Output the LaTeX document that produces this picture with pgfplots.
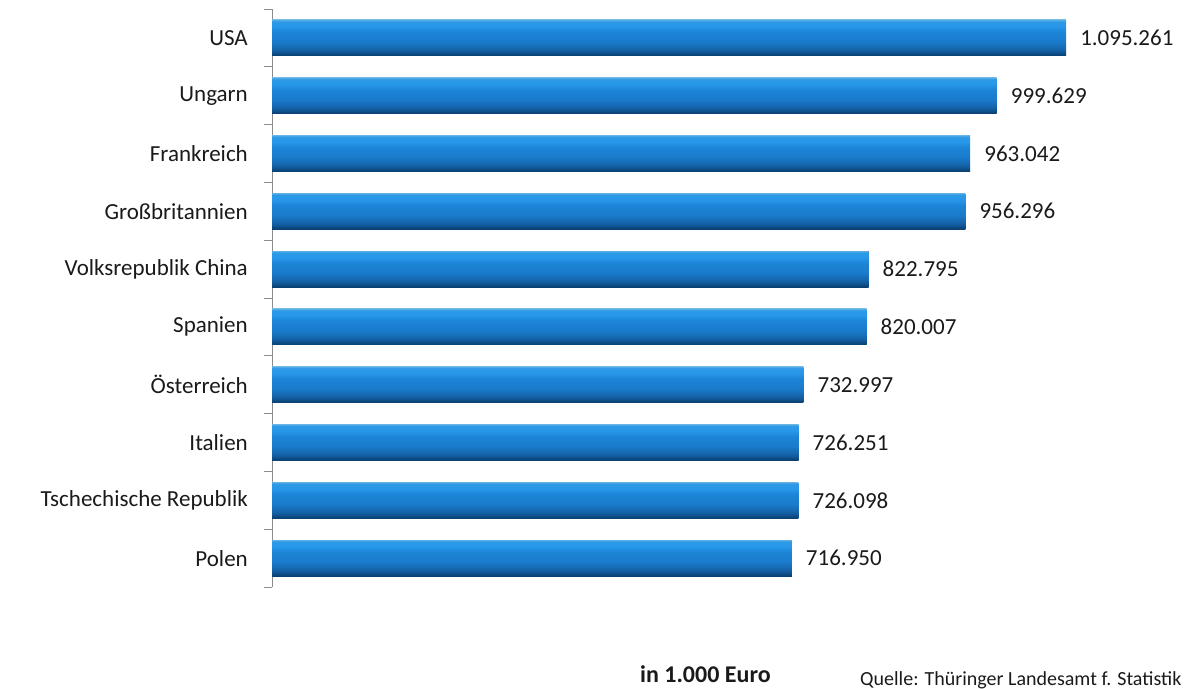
\documentclass[border=0pt]{standalone}
\usepackage{pgfplots}
\pgfplotsset{compat=1.18}
\usepackage{fontspec}
\setmainfont{Carlito}

\definecolor{txt}{HTML}{1A1A1A}
\definecolor{axisgray}{HTML}{8C8C8C}
\definecolor{b0}{HTML}{0A3F70}
\definecolor{b1}{HTML}{0C4A80}
\definecolor{b2}{HTML}{11599A}
\definecolor{b3}{HTML}{1668B0}
\definecolor{b4}{HTML}{1A7BCC}
\definecolor{b5}{HTML}{1C84D6}
\definecolor{b6}{HTML}{2797E9}
\definecolor{b7}{HTML}{2E9AE6}
\definecolor{b8}{HTML}{5AAEE6}

% bar gradient, bottom (25bp) to top (75bp)
\pgfdeclareverticalshading{barshade}{100bp}{color(0bp)=(b0); color(25bp)=(b0);
  color(27.8bp)=(b1); color(31bp)=(b2); color(36bp)=(b3); color(45bp)=(b4);
  color(58bp)=(b5); color(66bp)=(b6); color(73bp)=(b7); color(75bp)=(b8);
  color(100bp)=(b8)}

\newcommand{\lab}{\fontsize{23bp}{27bp}\selectfont}

\begin{document}
\begin{tikzpicture}
\path[use as bounding box] (0,0) rectangle (1194bp,-689bp);

\begin{axis}[
  at={(272bp,-9bp)}, anchor=north west,
  scale only axis, width=900bp, height=578bp,
  xmin=0, xmax=1241400, ymin=-0.5, ymax=9.5, y dir=reverse,
  hide x axis, axis y line*=left,
  ytick={0,...,9},
  yticklabels={USA, Ungarn, Frankreich, Großbritannien, Volksrepublik China,
    Spanien, Österreich, Italien, Tschechische Republik, Polen},
  minor ytick={-0.5,0.5,...,9.5},
  major tick length=0pt, minor tick length=8bp, tick align=outside,
  y axis line style={draw=axisgray, line width=1bp},
  every minor tick/.append style={draw=axisgray, line width=1bp},
  yticklabel style={font=\lab, text=txt, inner sep=0pt, xshift=-24bp},
  xbar, bar width=36bp, bar shift=0pt,
  nodes near coords, point meta=explicit symbolic,
  nodes near coords style={font=\lab, text=txt, anchor=west, inner sep=0pt, xshift=14bp},
  every axis plot/.append style={draw=none, shade, shading=barshade},
  clip=false,
]
% one plot per bar, so that each bar gets its own gradient
\addplot coordinates {(1095261,0) [1.095.261]};
\addplot coordinates {(999629,1) [999.629]};
\addplot coordinates {(963042,2) [963.042]};
\addplot coordinates {(956296,3) [956.296]};
\addplot coordinates {(822795,4) [822.795]};
\addplot coordinates {(820007,5) [820.007]};
\addplot coordinates {(732997,6) [732.997]};
\addplot coordinates {(726251,7) [726.251]};
\addplot coordinates {(726098,8) [726.098]};
\addplot coordinates {(716950,9) [716.950]};
\end{axis}

\node[anchor=base west, inner sep=0pt, text=txt, font=\fontsize{24bp}{28bp}\selectfont\bfseries]
  at (640bp,-682bp) {in 1.000 Euro};
\node[anchor=base west, inner sep=0pt, text=txt, font=\fontsize{20bp}{24bp}\selectfont]
  at (860bp,-685bp) {Quelle: Thüringer Landesamt f. Statistik};
\end{tikzpicture}
\end{document}
